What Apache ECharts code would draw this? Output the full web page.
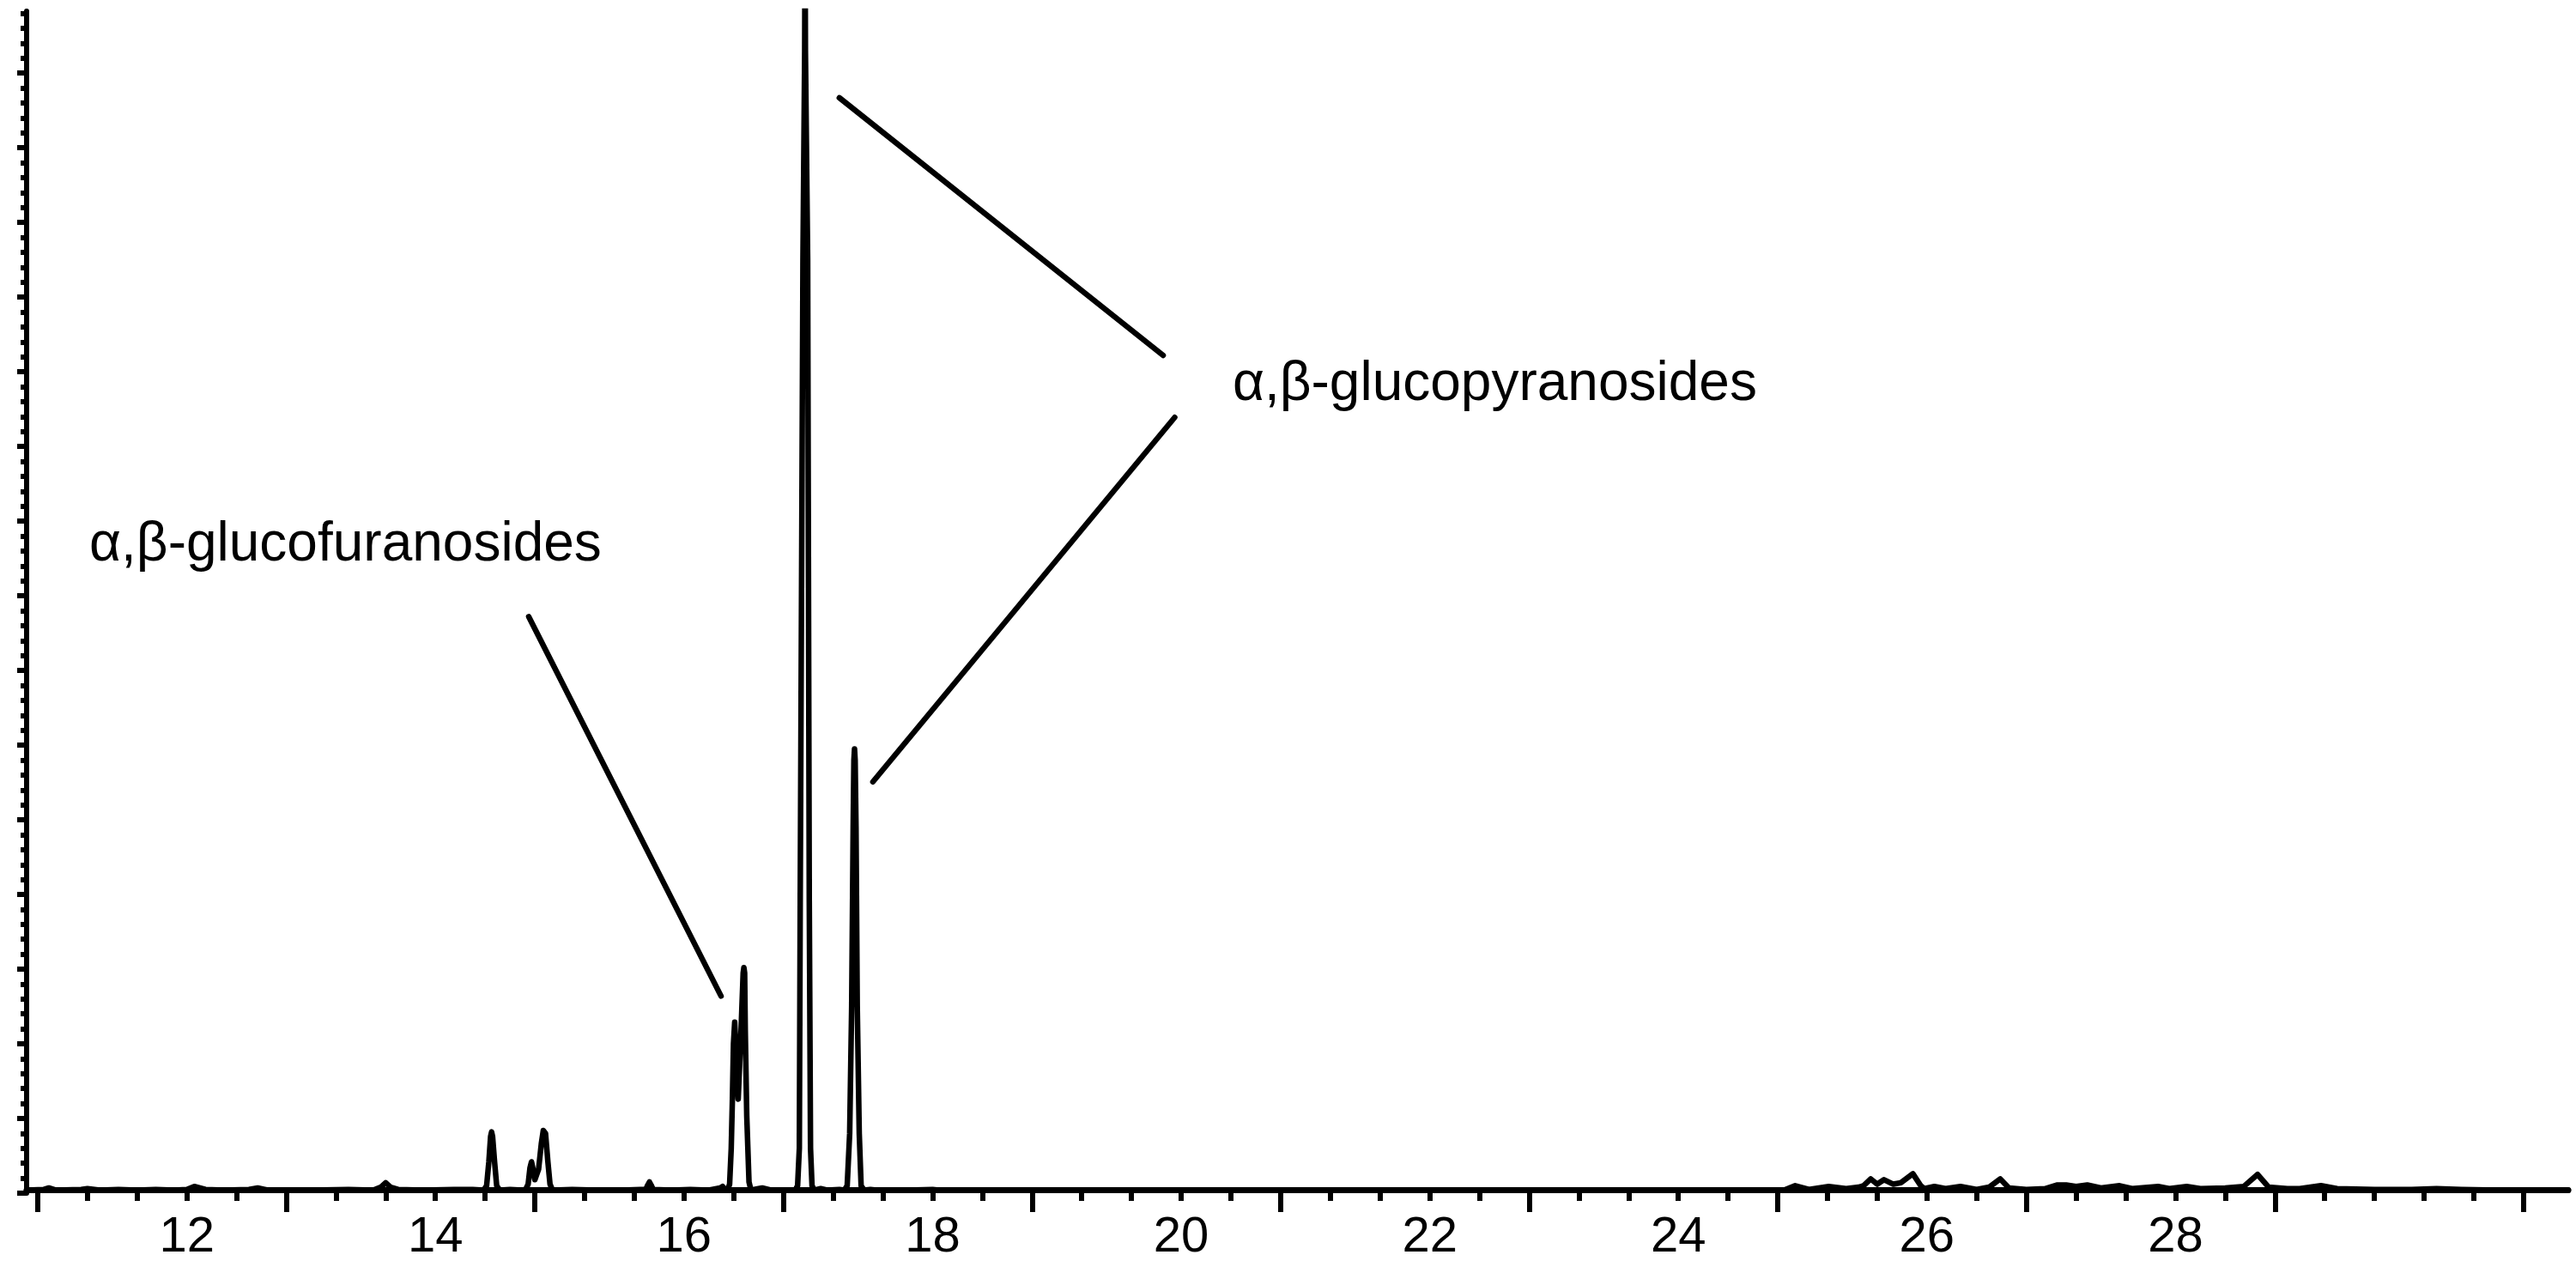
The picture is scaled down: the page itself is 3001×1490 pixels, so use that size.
<!DOCTYPE html>
<html>
<head>
<meta charset="utf-8">
<script src="https://cdn.jsdelivr.net/npm/echarts@6/dist/echarts.min.js"></script>
<style>
html,body{margin:0;padding:0;background:#fff;}
#c{width:3001px;height:1490px;}
</style>
</head>
<body>
<div id="c"></div>
<script>
// retention time (min) axis
const xMin = 10.711, xMax = 31.16;
const xLabels = [12, 14, 16, 18, 20, 22, 24, 26, 28];
const xShortTickStart = 10.8, xShortTickStep = 0.4, xShortTickCount = 51;
const xLongTickStart = 10.8, xLongTickStep = 2, xLongTickCount = 11;
// abundance axis (arbitrary units, no labels)
const yMin = 0, yMax = 15.83;
const yMinorStep = 0.2, yMinorCount = 80;
const yMajorStep = 1, yMajorCount = 16;

// chromatogram trace [time, abundance]
const trace = [
  [10.711,0.04],[10.85,0.05],[10.89,0.07],[10.95,0.04],[11.15,0.05],[11.2,0.06],[11.3,0.04],
  [11.45,0.05],[11.6,0.04],[11.75,0.05],[11.9,0.04],[12.0,0.05],[12.06,0.09],[12.15,0.05],
  [12.3,0.04],[12.5,0.05],[12.57,0.07],[12.65,0.04],[13.0,0.04],[13.3,0.05],[13.5,0.04],
  [13.56,0.08],[13.6,0.14],[13.64,0.08],[13.7,0.05],[13.9,0.04],[14.15,0.05],[14.3,0.05],
  // peak 14.45
  [14.388,0.04],[14.412,0.1],[14.43,0.42],[14.444,0.76],[14.452,0.82],[14.46,0.76],[14.476,0.42],[14.493,0.1],[14.518,0.04],
  [14.6,0.05],[14.7,0.04],
  // pair 14.77 / 14.88
  [14.726,0.05],[14.746,0.12],[14.761,0.34],[14.773,0.42],[14.786,0.32],[14.80,0.18],[14.812,0.17],
  [14.83,0.32],[14.852,0.66],[14.868,0.84],[14.877,0.86],[14.886,0.8],[14.905,0.42],[14.922,0.12],[14.942,0.04],
  [15.1,0.05],[15.3,0.04],[15.5,0.04],[15.65,0.05],
  // small 15.72
  [15.693,0.05],[15.709,0.11],[15.722,0.15],[15.735,0.11],[15.752,0.05],
  [15.9,0.04],[16.05,0.05],[16.2,0.04],[16.29,0.07],[16.31,0.09],[16.33,0.05],
  // glucofuranosides doublet
  [16.35,0.04],[16.367,0.12],[16.38,0.6],[16.39,1.3],[16.398,2.0],[16.408,2.29],[16.422,1.8],
  [16.436,1.26],[16.459,2.18],[16.476,2.95],[16.482,3.02],[16.488,2.95],[16.493,2.18],
  [16.505,1.03],[16.523,0.15],[16.539,0.04],
  [16.6,0.06],[16.63,0.07],[16.7,0.04],[16.8,0.04],
  // main glucopyranoside (off scale)
  [16.895,0.04],[16.914,0.1],[16.928,0.6],[16.935,3.9],[16.957,12.5],[16.971,15.3],[16.974,17.0],
  [16.977,15.3],[16.995,12.5],[17.008,3.9],[17.018,0.6],[17.03,0.1],[17.05,0.04],
  [17.1,0.06],[17.15,0.04],[17.25,0.05],
  // second glucopyranoside
  [17.29,0.04],[17.313,0.1],[17.333,0.8],[17.349,2.5],[17.361,4.9],[17.367,5.8],[17.372,5.95],
  [17.377,5.8],[17.384,4.9],[17.394,2.5],[17.41,0.8],[17.425,0.1],[17.45,0.04],
  [17.5,0.05],[17.55,0.04],[17.8,0.04],[18.0,0.05],[18.05,0.04],[18.5,0.04],[19.0,0.04],
  [19.5,0.04],[20.0,0.04],[21.0,0.04],[22.0,0.04],[23.0,0.04],[24.0,0.04],[24.5,0.04],
  [24.85,0.04],[24.94,0.1],[25.05,0.05],[25.21,0.09],[25.35,0.06],[25.45,0.08],[25.49,0.1],
  [25.548,0.19],[25.60,0.12],[25.655,0.18],[25.73,0.12],[25.79,0.14],[25.887,0.26],[25.95,0.1],
  [25.98,0.06],[26.06,0.09],[26.15,0.06],[26.27,0.09],[26.4,0.05],[26.5,0.08],[26.59,0.19],
  [26.66,0.07],[26.8,0.05],[26.95,0.06],[27.05,0.11],[27.12,0.11],[27.2,0.09],[27.29,0.11],
  [27.4,0.07],[27.55,0.1],[27.65,0.06],[27.86,0.09],[27.95,0.06],[28.09,0.09],[28.2,0.06],
  [28.4,0.07],[28.55,0.09],[28.66,0.25],[28.75,0.08],[28.9,0.06],[29.0,0.06],[29.17,0.1],
  [29.3,0.06],[29.6,0.05],[29.9,0.05],[30.1,0.06],[30.3,0.05],[30.6,0.04],[31.16,0.04]
];

// annotation labels and leader lines (data coordinates)
const annotationTexts = [
  { text: 'α,β-glucofuranosides', at: [11.212, 8.68] },
  { text: 'α,β-glucopyranosides', at: [20.41, 10.82] }
];
const leaderLines = [
  [[14.751, 7.72], [16.298, 2.64]],
  [[17.25, 14.67], [19.855, 11.22]],
  [[19.948, 10.39], [17.52, 5.51]]
];

function steps(start, step, count) {
  const out = [];
  for (let i = 0; i < count; i++) out.push(+(start + step * i).toFixed(3));
  return out;
}

const FONT = '"Liberation Sans", Arial, sans-serif';
const chart = echarts.init(document.getElementById('c'), null, { renderer: 'canvas' });

const baseX = {
  type: 'value', min: xMin, max: xMax, position: 'bottom', offset: -4,
  splitLine: { show: false }
};
const baseY = {
  type: 'value', min: yMin, max: yMax, position: 'left',
  splitLine: { show: false }
};

chart.setOption({
  animation: false,
  backgroundColor: '#ffffff',
  grid: { left: 31, right: 9, top: 13, bottom: 100, containLabel: false },
  xAxis: [
    Object.assign({}, baseX, {
      axisLine: { show: true, lineStyle: { color: '#000', width: 7 } },
      axisTick: { show: true, length: 13, lineStyle: { color: '#000', width: 6 },
                  customValues: steps(xShortTickStart, xShortTickStep, xShortTickCount) },
      axisLabel: { show: true, color: '#000', fontFamily: FONT, fontSize: 58, margin: 27,
                   customValues: xLabels, formatter: v => String(Math.round(v)) }
    }),
    Object.assign({}, baseX, {
      axisLine: { show: false },
      axisTick: { show: true, length: 26, lineStyle: { color: '#000', width: 6 },
                  customValues: steps(xLongTickStart, xLongTickStep, xLongTickCount) },
      axisLabel: { show: false }
    })
  ],
  yAxis: [
    Object.assign({}, baseY, {
      axisLine: { show: true, lineStyle: { color: '#000', width: 6 } },
      axisTick: { show: true, length: 7, lineStyle: { color: '#000', width: 6 },
                  customValues: steps(0, yMinorStep, yMinorCount) },
      axisLabel: { show: false }
    }),
    Object.assign({}, baseY, {
      axisLine: { show: false },
      axisTick: { show: true, length: 11, lineStyle: { color: '#000', width: 6 },
                  customValues: steps(0, yMajorStep, yMajorCount) },
      axisLabel: { show: false }
    })
  ],
  series: [{
    type: 'line',
    xAxisIndex: 0, yAxisIndex: 0,
    data: trace,
    showSymbol: false,
    symbol: 'none',
    clip: true,
    sampling: null,
    lineStyle: { color: '#000', width: 6.5, join: 'round', cap: 'round' },
    markLine: {
      silent: true,
      symbol: ['none', 'none'],
      label: { show: false },
      lineStyle: { color: '#000', width: 6.5, type: 'solid', cap: 'round' },
      data: leaderLines.map(l => [{ coord: l[0] }, { coord: l[1] }])
    },
    markPoint: {
      silent: true,
      symbol: 'circle',
      symbolSize: 1,
      itemStyle: { color: 'rgba(0,0,0,0)' },
      label: { show: true, position: 'right', distance: 0, color: '#000',
               fontFamily: FONT, fontSize: 64, formatter: p => p.name },
      data: annotationTexts.map(a => ({ name: a.text, coord: a.at }))
    }
  }]
});
</script>
</body>
</html>
